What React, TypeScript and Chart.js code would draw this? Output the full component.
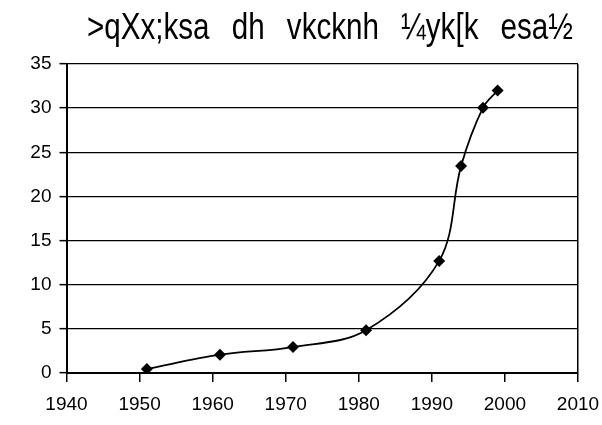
import React, { useEffect, useRef } from "react";
import { Chart, registerables } from "chart.js";

Chart.register(...registerables);

const TITLE = ">qXx;ksa dh vkcknh ¼yk[k esa½";
const years = [1951, 1961, 1971, 1981, 1991, 1994, 1997, 1999];
const population = [0.45, 2.07, 2.94, 4.85, 12.7, 23.45, 30.05, 32.0];
const xTicks = [1940, 1950, 1960, 1970, 1980, 1990, 2000, 2010];
const yTicks = [0, 5, 10, 15, 20, 25, 30, 35];

const FONT = '"Liberation Sans", Arial, sans-serif';

const titlePlugin = {
  id: "customTitle",
  afterDraw(chart: any) {
    const ctx = chart.ctx as any;
    const left = 87;
    const right = 573;
    const sx = 0.8;
    ctx.save();
    ctx.font = `37px ${FONT}`;
    ctx.fillStyle = "#000";
    ctx.textBaseline = "alphabetic";
    ctx.textAlign = "left";
    const words = TITLE.split(" ");
    const widths = words.map((w) => ctx.measureText(w).width * sx);
    const total = widths.reduce((a, b) => a + b, 0);
    const gap = (right - left - total) / (words.length - 1);
    let x = left;
    words.forEach((w, i) => {
      ctx.save();
      ctx.translate(x, 38.5);
      ctx.scale(sx, 1);
      ctx.fillText(w, 0, 0);
      ctx.restore();
      x += widths[i] + gap;
    });
    ctx.restore();
  },
};

export default function App() {
  const ref = useRef<HTMLCanvasElement>(null);
  useEffect(() => {
    if (!ref.current) return;
    const chart = new Chart(ref.current, {
      type: "line",
      data: {
        datasets: [
          {
            data: years.map((y, i) => ({ x: y, y: population[i] })),
            borderColor: "#000",
            backgroundColor: "#000",
            borderWidth: 1.8,
            tension: 0.35,
            pointStyle: "rectRot",
            pointRadius: 6,
            pointBackgroundColor: "#000",
            pointBorderColor: "#000",
            pointBorderWidth: 0,
          },
        ],
      },
      plugins: [titlePlugin],
      options: {
        animation: false,
        responsive: false,
        devicePixelRatio: 1,
        layout: { padding: { top: 64, right: 24, left: 0, bottom: 0 } },
        plugins: {
          legend: { display: false },
          title: { display: false },
          tooltip: { enabled: false },
        },
        scales: {
          x: {
            type: "linear",
            min: 1940,
            max: 2010,
            afterBuildTicks: (s: any) => {
              s.ticks = xTicks.map((v) => ({ value: v }));
            },
            afterFit: (s: any) => {
              s.height = 52;
              s.paddingLeft = 0;
              s.paddingRight = 0;
            },
            ticks: {
              color: "#000",
              font: { family: FONT, size: 19 },
              padding: 11,
              maxRotation: 0,
              autoSkip: false,
              callback: (v: any) => String(v),
            },
            grid: {
              color: (c: any) => (c.tick && c.tick.value === 2010 ? "#000" : "rgba(0,0,0,0)"),
              lineWidth: 1.5,
              tickColor: "#000",
              tickLength: 9,
              tickWidth: 1.5,
            },
            border: { display: true, color: "#000", width: 2 },
          },
          y: {
            min: 0,
            max: 35,
            afterBuildTicks: (s: any) => {
              s.ticks = yTicks.map((v) => ({ value: v }));
            },
            afterFit: (s: any) => {
              s.width = 66.5;
              s.paddingTop = 0;
              s.paddingBottom = 0;
            },
            ticks: {
              color: "#000",
              font: { family: FONT, size: 19 },
              padding: 8,
              autoSkip: false,
            },
            grid: {
              color: "#000",
              lineWidth: 1.3,
              tickColor: "#000",
              tickLength: 7,
              tickWidth: 1.5,
            },
            border: { display: true, color: "#000", width: 2 },
          },
        },
      },
    });
    return () => chart.destroy();
  }, []);
  return (
    <div style={{ position: "fixed", left: 0, top: 0, width: 602, height: 425, background: "#fff" }}>
      <canvas ref={ref} width={602} height={425} style={{ width: 602, height: 425, display: "block" }} />
    </div>
  );
}
